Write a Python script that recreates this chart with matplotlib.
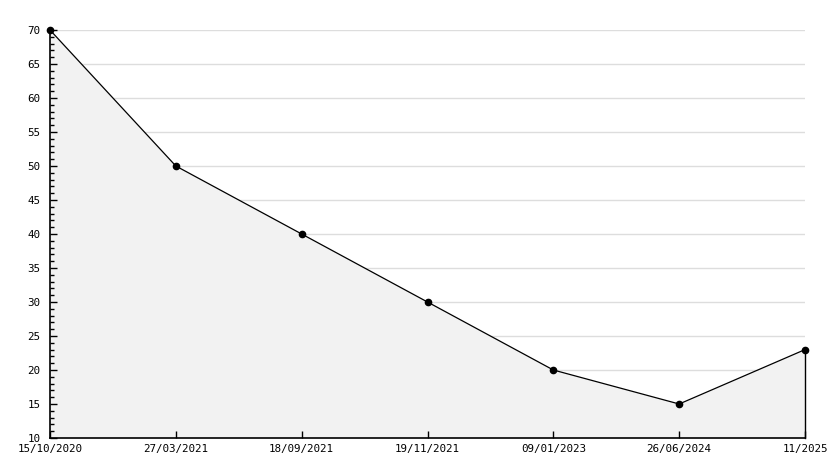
import matplotlib
matplotlib.use("Agg")
import matplotlib.pyplot as plt
from matplotlib.ticker import MultipleLocator

labels = ["15/10/2020", "27/03/2021", "18/09/2021", "19/11/2021", "09/01/2023", "26/06/2024", "11/2025"]
values = [70, 50, 40, 30, 20, 15, 23]
y_ticks = list(range(10, 71, 5))

W, H = 834, 468
fig = plt.figure(figsize=(W/100, H/100), dpi=100)
ax = fig.add_axes([50/W, 1-438/H, (805-50)/W, (438-30)/H])

x = list(range(len(values)))
ax.set_xlim(0, len(values)-1)
ax.set_ylim(10, 70)

for yv in y_ticks[1:]:
    ax.axhline(yv, color="#dddddd", lw=1, zorder=0.5)

ax.fill_between(x, values, 10, color="#f2f2f2", zorder=1, linewidth=0)
ax.plot([x[-1], x[-1]], [10, values[-1]], color="black", lw=1, zorder=2, clip_on=False)
ax.plot(x, values, color="black", lw=0.9, marker="o", ms=4.5, zorder=3, clip_on=False)

ax.set_yticks(y_ticks)
ax.yaxis.set_minor_locator(MultipleLocator(1))

ax.set_xticks(x)
ax.set_xticklabels(labels)
for s in ["top", "right"]:
    ax.spines[s].set_visible(False)
for s in ["left", "bottom"]:
    ax.spines[s].set_linewidth(1.2)

ax.tick_params(axis="y", which="major", direction="in", length=5, width=1, labelsize=7.8, pad=7)
ax.tick_params(axis="y", which="minor", direction="in", length=3, width=1)
ax.tick_params(axis="x", which="major", direction="in", length=5, width=1, labelsize=7.8, pad=4)
for t in ax.get_xticklabels() + ax.get_yticklabels():
    t.set_fontfamily("DejaVu Sans Mono")

fig.savefig("out.png", dpi=100)
